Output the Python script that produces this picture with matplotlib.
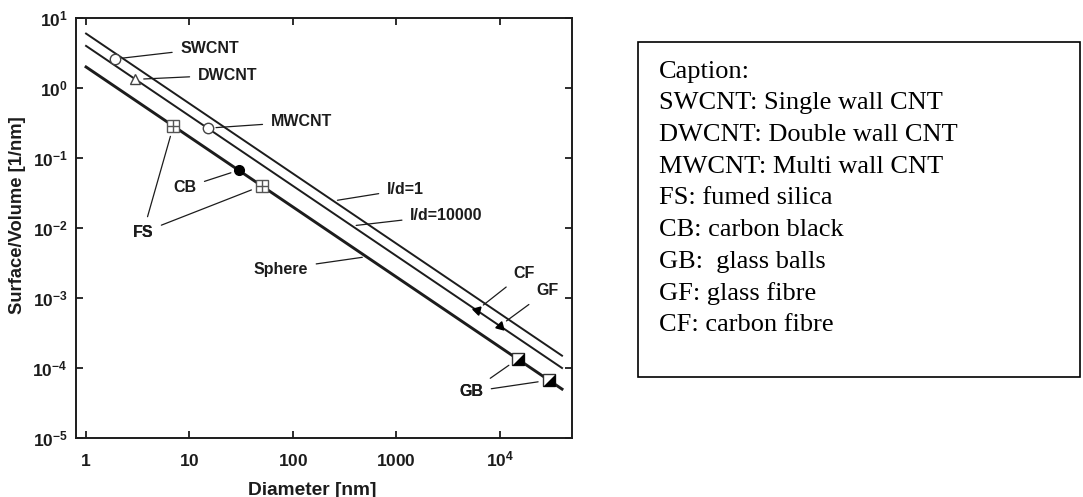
import numpy as np
import matplotlib
matplotlib.use("Agg")
import matplotlib.pyplot as plt
from matplotlib.patches import Rectangle

plt.rcParams['font.family'] = 'Liberation Sans'
plt.rcParams['font.weight'] = 'bold'
plt.rcParams['mathtext.fontset'] = 'custom'
plt.rcParams['mathtext.rm'] = 'Liberation Sans:bold'
plt.rcParams['mathtext.bf'] = 'Liberation Sans:bold'
plt.rcParams['mathtext.it'] = 'Liberation Sans:bold'

# --- reference lines: S/V = k / d ---
d_line = np.array([1.0, 4.0e4])
k_ld1 = 6.0      # l/d = 1
k_ld10000 = 4.0  # l/d = 10000
k_sphere = 2.0   # sphere

# --- filler points (diameter [nm], S/V [1/nm]) ---
swcnt_d, swcnt_sv = [1.9], [2.6]
dwcnt_d, dwcnt_sv = [3.0], [1.33]
mwcnt_d, mwcnt_sv = [15.0], [0.267]
fs_d, fs_sv = [7.0, 50.0], [0.29, 0.04]
cb_d, cb_sv = [30.0], [0.067]
cf_d, cf_sv = [6000.0], [6.7e-4]
gf_d, gf_sv = [10000.0], [4.0e-4]
gb_d, gb_sv = [15000.0, 30000.0], [1.35e-4, 6.7e-5]

x_ticks = [1, 10, 100, 1000, 1e4]
x_ticklabels = [r'$1$', r'$10$', r'$100$', r'$1000$', r'$10^4$']
y_ticks = [1e-5, 1e-4, 1e-3, 1e-2, 1e-1, 1e0, 1e1]
y_ticklabels = [r'$10^{-5}$', r'$10^{-4}$', r'$10^{-3}$', r'$10^{-2}$',
                r'$10^{-1}$', r'$10^{0}$', r'$10^{1}$']

caption = ['Caption:',
           'SWCNT: Single wall CNT',
           'DWCNT: Double wall CNT',
           'MWCNT: Multi wall CNT',
           'FS: fumed silica',
           'CB: carbon black',
           'GB:  glass balls',
           'GF: glass fibre',
           'CF: carbon fibre']

ink = '#1c1c1c'

fig = plt.figure(figsize=(10.83, 4.97), dpi=100)
ax = fig.add_axes([0.0702, 0.1187, 0.458, 0.845])
ax.set_xscale('log')
ax.set_yscale('log')
ax.set_xlim(0.8, 5.0e4)
ax.set_ylim(1e-5, 1e1)

ax.plot(d_line, k_ld1 / d_line, color=ink, lw=1.4, zorder=2)
ax.plot(d_line, k_ld10000 / d_line, color=ink, lw=1.4, zorder=2)
ax.plot(d_line, k_sphere / d_line, color=ink, lw=2.1, zorder=2)

# markers
ax.plot(swcnt_d, swcnt_sv, 'o', ms=7.5, mfc='white', mec='#444444', mew=1.0, zorder=3)
ax.plot(dwcnt_d, dwcnt_sv, '^', ms=7.5, mfc='white', mec='#444444', mew=1.0, zorder=3)
ax.plot(mwcnt_d, mwcnt_sv, 'o', ms=7.5, mfc='white', mec='#444444', mew=1.0, zorder=3)
ax.plot(fs_d, fs_sv, 's', ms=9, mfc='white', mec='#555555', mew=1.0, ls='none', zorder=3)
ax.plot(fs_d, fs_sv, '+', ms=9, mec='#555555', mew=1.0, ls='none', zorder=4)
ax.plot(cb_d, cb_sv, 'o', ms=7, mfc='black', mec='black', zorder=3)
ax.plot(cf_d, cf_sv, marker=(3, 0, 75), ms=7, mfc='black', mec='black', ls='none', zorder=3)
ax.plot(gf_d, gf_sv, marker=(3, 0, 105), ms=7, mfc='black', mec='black', ls='none', zorder=3)
ax.plot(gb_d, gb_sv, 's', ms=8.5, mfc='white', mec='#333333', mew=1.0, ls='none', zorder=3)
ax.plot(gb_d, gb_sv, marker=[(1, 1), (1, -1), (-1, -1)], ms=8.5, mfc='black',
        mec='black', mew=0.5, ls='none', zorder=4)

# labels with leader lines
fs_lab = 11.5


def label(text, xy, xytext, shrink=6):
    ax.annotate(text, xy=xy, xytext=xytext, ha='center', va='center',
                fontsize=fs_lab, fontweight='bold', color=ink,
                arrowprops=dict(arrowstyle='-', color=ink, lw=0.9,
                                shrinkA=4, shrinkB=shrink))


label('SWCNT', (swcnt_d[0], swcnt_sv[0]), (15.7, 3.73))
label('DWCNT', (dwcnt_d[0], dwcnt_sv[0]), (23.4, 1.534))
label('MWCNT', (mwcnt_d[0], mwcnt_sv[0]), (121, 0.330))
label('l/d=1', (246, k_ld1 / 246), (1225, 0.0357), shrink=3)
label('l/d=10000', (373, k_ld10000 / 373), (3055, 0.01534), shrink=3)
label('CB', (cb_d[0], cb_sv[0]), (9.02, 0.0376))
label('FS', (fs_d[0], fs_sv[0]), (3.56, 0.00868), shrink=8)
label('FS', (fs_d[1], fs_sv[1]), (3.56, 0.00868), shrink=8)
label('Sphere', (514, k_sphere / 514), (76.3, 0.002597), shrink=3)
label('CF', (cf_d[0], cf_sv[0]), (17000, 0.002254))
label('GF', (gf_d[0], gf_sv[0]), (28800, 0.00126))
label('GB', (gb_d[0], gb_sv[0]), (5275, 4.58e-5), shrink=8)
label('GB', (gb_d[1], gb_sv[1]), (5275, 4.58e-5), shrink=8)

ax.set_xticks(x_ticks)
ax.set_xticklabels(x_ticklabels)
ax.set_yticks(y_ticks)
ax.set_yticklabels(y_ticklabels)
ax.minorticks_off()
ax.tick_params(which='major', direction='in', length=5, width=1.3, color=ink,
               top=True, right=True, labelsize=12.5, labelcolor=ink)
ax.tick_params(axis='x', pad=20.5)
ax.tick_params(axis='y', pad=6)
for t in ax.get_xticklabels():
    t.set_verticalalignment('baseline')
for s in ax.spines.values():
    s.set_linewidth(1.4)
    s.set_color(ink)

ax.set_xlabel('Diameter [nm]', fontsize=13.8, fontweight='bold', color=ink,
              va='center', ha='center')
ax.set_ylabel('Surface/Volume [1/nm]', fontsize=13.2, fontweight='bold', color=ink,
              va='center', ha='center')
ax.xaxis.set_label_coords(0.477, -0.124)
ax.yaxis.set_label_coords(-0.119, 0.531)

# caption box
fig.patches.append(Rectangle((0.589, 0.2414), 0.408, 0.674, transform=fig.transFigure,
                             fill=False, edgecolor='black', lw=1.2))
y0 = 1 - 71.7 / 497
for i, line in enumerate(caption):
    fig.text(659 / 1083, y0 - i * 31.7 / 497, line, family='Liberation Serif',
             fontweight='normal', fontsize=19, va='center', ha='left', color='black')

fig.savefig('out.png', dpi=100)
